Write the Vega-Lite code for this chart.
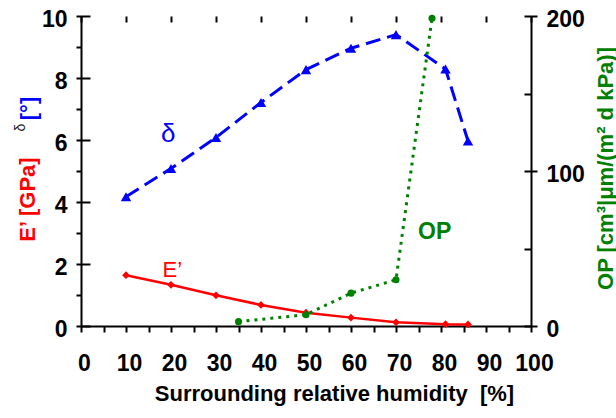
{
  "$schema": "https://vega.github.io/schema/vega-lite/v6.json",
  "width": 450,
  "height": 310,
  "autosize": "none",
  "padding": {"left": 81, "top": 16, "right": 85, "bottom": 92},
  "config": {
    "view": {"stroke": null},
    "font": "Liberation Sans",
    "axis": {
      "grid": false,
      "domainColor": "#000000",
      "domainWidth": 2,
      "tickColor": "#000000",
      "tickWidth": 2,
      "labelColor": "#000000",
      "labelFont": "Liberation Sans",
      "labelFontSize": 23,
      "labelFontWeight": "bold",
      "labelFlush": false,
      "labelOverlap": false,
      "titleFont": "Liberation Sans",
      "titleFontSize": 22,
      "titleFontWeight": "bold"
    }
  },
  "datasets": {
    "ep": [
      {"rh": 10, "v": 1.64},
      {"rh": 20, "v": 1.33},
      {"rh": 30, "v": 0.99},
      {"rh": 40, "v": 0.68},
      {"rh": 50, "v": 0.43},
      {"rh": 60, "v": 0.27},
      {"rh": 70, "v": 0.12},
      {"rh": 81, "v": 0.06},
      {"rh": 86, "v": 0.05}
    ],
    "delta": [
      {"rh": 10, "v": 4.17},
      {"rh": 20, "v": 5.08},
      {"rh": 30, "v": 6.08},
      {"rh": 40, "v": 7.21},
      {"rh": 50, "v": 8.27},
      {"rh": 60, "v": 8.96},
      {"rh": 70, "v": 9.4},
      {"rh": 81, "v": 8.29},
      {"rh": 86, "v": 5.97}
    ],
    "op": [
      {"rh": 35, "v": 2.8},
      {"rh": 50, "v": 7.3},
      {"rh": 60, "v": 21.2},
      {"rh": 70, "v": 29.8},
      {"rh": 78, "v": 198.5}
    ],
    "notes": [
      {"rh": 19.4, "v": 6.18, "label": "δ"},
      {"rh": 20.3, "v": 1.81, "label": "E’"}
    ],
    "opnote": [
      {"rh": 78.6, "v": 60.5, "label": "OP"}
    ]
  },
  "layer": [
    {
      "data": {"name": "ep"},
      "encoding": {
        "x": {
          "field": "rh", "type": "quantitative",
          "scale": {"domain": [0, 100], "nice": false, "zero": false},
          "axis": {
            "values": [0, 5, 10, 15, 20, 25, 30, 35, 40, 45, 50, 55, 60, 65, 70, 75, 80, 85, 90, 95, 100],
            "labelExpr": "datum.value % 10 === 0 ? datum.label : ''",
            "tickSize": 6,
            "labelPadding": 20,
            "labelOffset": 3,
            "title": "Surrounding relative humidity \u00a0[%]",
            "titleX": 253,
            "titleY": 74,
            "titleAlign": "center",
            "titleBaseline": "alphabetic"
          }
        },
        "y": {
          "field": "v", "type": "quantitative",
          "scale": {"domain": [0, 10], "nice": false},
          "axis": {
            "orient": "left",
            "values": [0, 1, 2, 3, 4, 5, 6, 7, 8, 9, 10],
            "labelExpr": "datum.value % 2 === 0 ? datum.label : ''",
            "tickSize": 5,
            "labelPadding": 9,
            "labelOffset": 3,
            "title": "E’ [GPa]",
            "titleColor": "#ff0000",
            "titleAngle": -90,
            "titleX": -54,
            "titleY": 183,
            "titleAlign": "center",
            "titleBaseline": "middle"
          }
        }
      },
      "layer": [
        {"mark": {"type": "line", "color": "#ff0000", "strokeWidth": 2.5}},
        {"mark": {"type": "point", "shape": "diamond", "filled": true, "color": "#ff0000", "opacity": 1, "size": 60}}
      ]
    },
    {
      "data": {"name": "delta"},
      "encoding": {
        "x": {
          "field": "rh", "type": "quantitative",
          "scale": {"domain": [0, 100], "nice": false, "zero": false},
          "axis": {
            "values": [0, 10, 20, 30, 40, 50, 60, 70, 80, 90, 100],
            "labels": false,
            "domain": false,
            "tickSize": -6,
            "title": null
          }
        },
        "y": {
          "field": "v", "type": "quantitative",
          "scale": {"domain": [0, 10], "nice": false},
          "axis": {
            "orient": "left",
            "values": [0, 2, 4, 6, 8, 10],
            "labels": false,
            "domain": false,
            "tickSize": -9,
            "title": "[°]",
            "titleColor": "#0000ff",
            "titleAngle": -90,
            "titleX": -53,
            "titleY": 92,
            "titleAlign": "center",
            "titleBaseline": "middle"
          }
        }
      },
      "layer": [
        {"mark": {"type": "line", "color": "#0000ff", "strokeWidth": 3, "strokeDash": [15, 7]}},
        {"mark": {"type": "point", "shape": "triangle-up", "filled": true, "color": "#0000ff", "opacity": 1, "size": 110}}
      ]
    },
    {
      "data": {"name": "notes"},
      "mark": {"type": "text", "font": "Liberation Sans", "align": "center", "baseline": "middle"},
      "encoding": {
        "x": {
          "field": "rh", "type": "quantitative",
          "scale": {"domain": [0, 100], "nice": false, "zero": false},
          "axis": null
        },
        "y": {
          "field": "v", "type": "quantitative",
          "scale": {"domain": [0, 10], "nice": false},
          "axis": {
            "orient": "left",
            "labels": false,
            "ticks": false,
            "domain": false,
            "title": "δ",
            "titleColor": "#222222",
            "titleFontWeight": "normal",
            "titleFontSize": 14,
            "titleAngle": -90,
            "titleX": -61,
            "titleY": 111,
            "titleAlign": "center",
            "titleBaseline": "middle"
          }
        },
        "text": {"field": "label", "type": "nominal"},
        "color": {
          "field": "label", "type": "nominal",
          "scale": {"domain": ["δ", "E’"], "range": ["#0000ff", "#ff0000"]},
          "legend": null
        },
        "size": {
          "field": "label", "type": "nominal",
          "scale": {"domain": ["δ", "E’"], "range": [26, 22]},
          "legend": null
        }
      }
    },
    {
      "data": {"name": "op"},
      "encoding": {
        "x": {
          "field": "rh", "type": "quantitative",
          "scale": {"domain": [0, 100], "nice": false, "zero": false},
          "axis": null
        },
        "y": {
          "field": "v", "type": "quantitative",
          "scale": {"domain": [0, 200], "nice": false},
          "axis": {
            "orient": "right",
            "values": [0, 100, 200],
            "tickSize": 6,
            "labelPadding": 9,
            "labelOffset": 3,
            "title": "OP [cm³|μm/(m² d kPa)]",
            "titleColor": "#008000",
            "titleAngle": -90,
            "titleX": 74,
            "titleY": 152,
            "titleAlign": "center",
            "titleBaseline": "middle"
          }
        }
      },
      "layer": [
        {"mark": {"type": "line", "color": "#008000", "strokeWidth": 3, "strokeDash": [3, 5]}},
        {"mark": {"type": "point", "shape": "circle", "filled": true, "color": "#008000", "opacity": 1, "size": 50}}
      ]
    },
    {
      "data": {"name": "opnote"},
      "mark": {"type": "text", "font": "Liberation Sans", "fontSize": 23, "fontWeight": "bold", "align": "center", "baseline": "middle", "color": "#008000"},
      "encoding": {
        "x": {
          "field": "rh", "type": "quantitative",
          "scale": {"domain": [0, 100], "nice": false, "zero": false},
          "axis": null
        },
        "y": {
          "field": "v", "type": "quantitative",
          "scale": {"domain": [0, 200], "nice": false},
          "axis": {
            "orient": "right",
            "values": [0, 50, 100, 150, 200],
            "labels": false,
            "domain": false,
            "tickSize": -7,
            "title": null
          }
        },
        "text": {"field": "label", "type": "nominal"}
      }
    }
  ],
  "resolve": {"scale": {"x": "independent", "y": "independent"}}
}
